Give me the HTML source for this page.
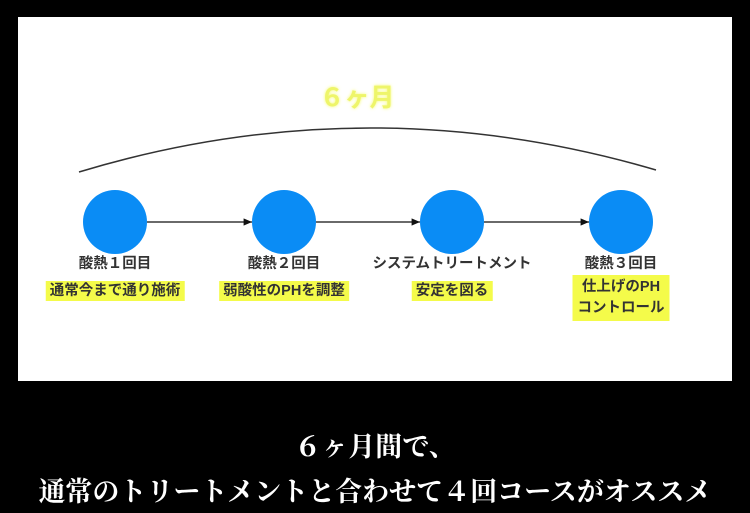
<!DOCTYPE html>
<html><head><meta charset="utf-8"><style>
body{margin:0;width:750px;height:513px;background:#000;overflow:hidden;position:relative;font-family:"Liberation Sans","Noto Sans CJK JP",sans-serif}
.panel{position:absolute;left:18px;top:17px;width:714px;height:364px;background:#fff}
.t{position:absolute;font-size:14.5px;font-weight:bold;color:#333;white-space:nowrap;transform:translateX(-50%);text-align:center}
.h{background:#f4fb4a;padding:2px 4px;line-height:21px}
.cap{position:absolute;left:0;width:750px;text-align:center;color:#fff;font-family:"Liberation Serif","Noto Serif CJK SC",serif;font-size:27px;font-weight:bold}
</style></head><body>
<div class="panel"></div>
<svg width="750" height="513" style="position:absolute;left:0;top:0">
<defs><marker id="a" markerWidth="8" markerHeight="8" refX="7" refY="4" orient="auto"><path d="M0,1 L7,4 L0,7z" fill="#111"/></marker>
<filter id="g"><feGaussianBlur stdDeviation="1.5"/></filter></defs>
<path d="M79,172 Q367,85 656,170" fill="none" stroke="#333" stroke-width="1.5"/>
<line x1="147" y1="222" x2="252" y2="222" stroke="#111" stroke-width="1.2" marker-end="url(#a)"/>
<line x1="316" y1="222" x2="420" y2="222" stroke="#111" stroke-width="1.2" marker-end="url(#a)"/>
<line x1="484" y1="222" x2="589" y2="222" stroke="#111" stroke-width="1.2" marker-end="url(#a)"/>
<circle cx="115" cy="222" r="32" fill="#0a8cf5"/>
<circle cx="284" cy="222" r="32" fill="#0a8cf5"/>
<circle cx="452" cy="222" r="32" fill="#0a8cf5"/>
<circle cx="621" cy="222" r="32" fill="#0a8cf5"/>
<text x="357" y="106" text-anchor="middle" font-size="25" font-weight="bold" fill="#f6fb6a" filter="url(#g)" font-family="Liberation Sans,Noto Sans CJK JP,sans-serif">６ヶ月</text>
<text x="357" y="106" text-anchor="middle" font-size="25" font-weight="bold" fill="#eef56a" font-family="Liberation Sans,Noto Sans CJK JP,sans-serif">６ヶ月</text>
</svg>
<div class="t" style="left:115px;top:252px">酸熱１回目</div>
<div class="t" style="left:284px;top:252px">酸熱２回目</div>
<div class="t" style="left:452px;top:252px">システムトリートメント</div>
<div class="t" style="left:621px;top:252px">酸熱３回目</div>
<div class="t" style="left:115px;top:281px"><span class="h">通常今まで通り施術</span></div>
<div class="t" style="left:284px;top:281px"><span class="h">弱酸性のPHを調整</span></div>
<div class="t" style="left:452px;top:281px"><span class="h">安定を図る</span></div>
<div class="t" style="left:621px;top:275px;background:#f4fb4a;padding:2px 5px;line-height:21px">仕上げのPH<br>コントロール</div>
<div class="cap" style="top:425px">６ヶ月間で、</div>
<div class="cap" style="top:470px">通常のトリートメントと合わせて４回コースがオススメ</div>
</body></html>
